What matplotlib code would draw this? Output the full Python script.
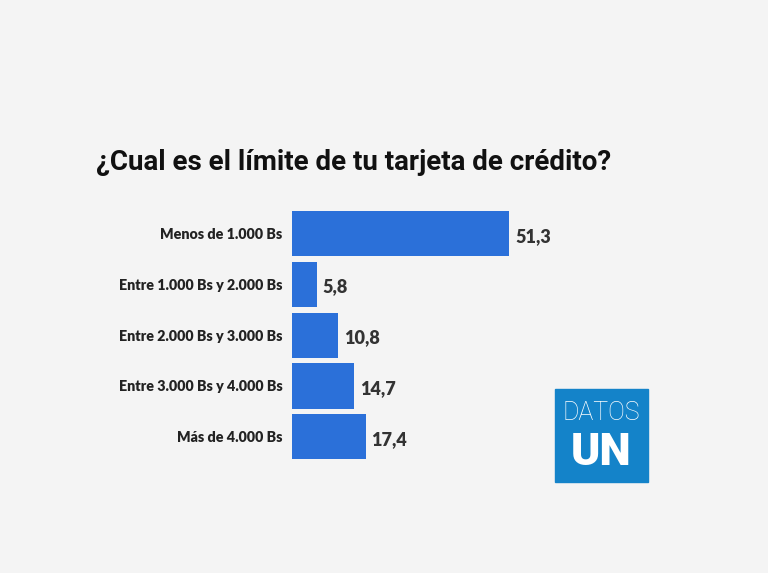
import matplotlib.pyplot as plt
from matplotlib.patches import Rectangle

categorias = ['Menos de 1.000 Bs', 'Entre 1.000 Bs y 2.000 Bs', 'Entre 2.000 Bs y 3.000 Bs',
              'Entre 3.000 Bs y 4.000 Bs', 'Más de 4.000 Bs']
valores = [51.3, 5.8, 10.8, 14.7, 17.4]
etiquetas = ['51,3', '5,8', '10,8', '14,7', '17,4']

W, H = 768, 573
bg = '#f4f4f4'
fig = plt.figure(figsize=(W/100, H/100), dpi=100, facecolor=bg)

# axes: x from 292 px, 4.23 px per unit; rows of ~50.7 px
left = 292/W
width = 4.23*60/W
top = 208.5
bot = top + 5*50.7
ax = fig.add_axes([left, 1-bot/H, width, (bot-top)/H])
ax.set_facecolor('none')
y = list(range(len(categorias)))
ax.barh(y, valores, height=0.89, color='#2b70d9')
ax.set_xlim(0, 60)
ax.set_ylim(4.5, -0.5)
for s in ax.spines.values():
    s.set_visible(False)
ax.set_xticks([])
ax.set_yticks(y)
ax.set_yticklabels(categorias, family='Lato', fontweight='heavy', fontsize=10.3, color='#222222')
ax.tick_params(axis='y', length=0, pad=7)
for yi, v, t in zip(y, valores, etiquetas):
    ax.text(v + 1.4, yi + 0.05, t, va='center', ha='left', family='Lato', fontweight='heavy',
            fontsize=13, color='#333333')

fig.text(96/W, 1-170/H, '¿Cual es el límite de tu tarjeta de crédito?', family='Roboto',
         fontweight='bold', fontsize=20, color='#111111', ha='left', va='baseline')

# logo DATOS UN
lx, ly, lw = 555, 389, 93
fig.patches.append(Rectangle((lx/W, 1-(ly+lw)/H), lw/W, lw/H, transform=fig.transFigure,
                             color='#1483c9', zorder=1))
fig.text((lx+lw/2)/W, 1-(ly+24)/H, 'DATOS', family='Roboto', fontweight='light', fontsize=18,
         color='white', ha='center', va='center', zorder=2)
fig.text((lx+lw/2)/W, 1-(ly+64)/H, 'UN', family='Roboto', fontweight='black', fontsize=32,
         color='white', ha='center', va='center', zorder=2)

fig.savefig('out.png', dpi=100, facecolor=bg)
